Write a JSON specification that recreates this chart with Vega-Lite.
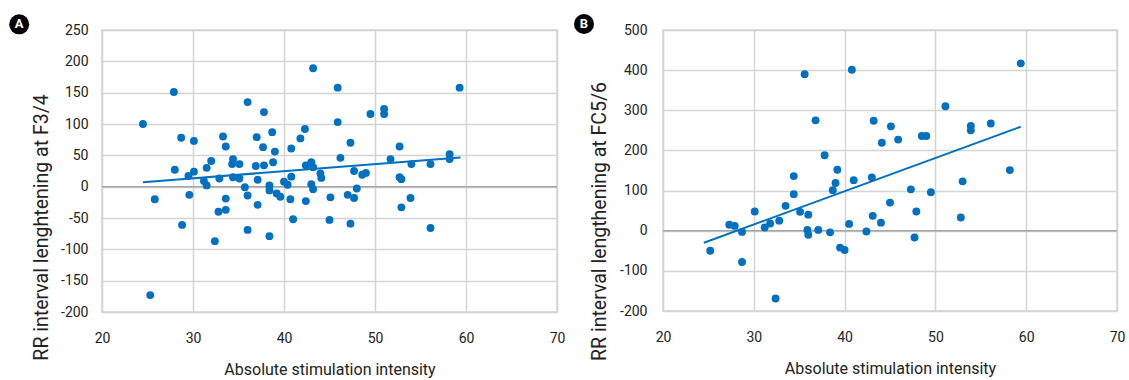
{
  "$schema": "https://vega.github.io/schema/vega-lite/v6.json",
  "background": "white",
  "padding": {"left": 8, "top": 13, "right": 5, "bottom": 5},
  "spacing": 106,
  "bounds": "flush",
  "config": {
    "font": "Roboto",
    "view": {"stroke": "#d4d4d4", "strokeWidth": 1.5},
    "axis": {
      "grid": true,
      "gridColor": "#d4d4d4",
      "gridWidth": 1.5,
      "domain": false,
      "ticks": false,
      "tickSize": 0,
      "labelFlush": false,
      "labelOverlap": false,
      "labelFont": "Roboto",
      "labelFontSize": 14,
      "labelColor": "#222222",
      "titleFont": "Roboto",
      "titleFontWeight": "normal",
      "titleColor": "#222222",
      "labelExpr": "datum.value < 0 ? '-' + abs(datum.value) : '' + datum.value"
    },
    "axisX": {"labelPadding": 19, "titlePadding": 16, "titleFontSize": 16},
    "axisY": {"labelPadding": 14, "titlePadding": 9, "titleFontSize": 19.5}
  },
  "datasets": {
    "a": [
      {"x": 24.5, "y": 100}, {"x": 27.9, "y": 151}, {"x": 25.8, "y": -20}, {"x": 25.3, "y": -173},
      {"x": 28.7, "y": 78}, {"x": 30.1, "y": 73}, {"x": 28.0, "y": 27}, {"x": 29.5, "y": 17},
      {"x": 30.1, "y": 24}, {"x": 29.6, "y": -13}, {"x": 28.8, "y": -61}, {"x": 31.2, "y": 9},
      {"x": 31.5, "y": 2}, {"x": 31.5, "y": 30}, {"x": 32.0, "y": 41}, {"x": 32.9, "y": 13},
      {"x": 32.4, "y": -87}, {"x": 32.8, "y": -40}, {"x": 33.6, "y": -37}, {"x": 33.6, "y": -19},
      {"x": 33.3, "y": 80}, {"x": 33.6, "y": 64}, {"x": 34.4, "y": 44}, {"x": 34.3, "y": 36},
      {"x": 35.1, "y": 36}, {"x": 34.4, "y": 15}, {"x": 35.1, "y": 13}, {"x": 35.7, "y": -1},
      {"x": 36.0, "y": -14}, {"x": 36.0, "y": -69}, {"x": 36.0, "y": 135}, {"x": 37.8, "y": 119},
      {"x": 37.0, "y": 79}, {"x": 37.7, "y": 63}, {"x": 38.7, "y": 87}, {"x": 39.0, "y": 56},
      {"x": 36.9, "y": 33}, {"x": 37.8, "y": 34}, {"x": 38.8, "y": 39}, {"x": 37.1, "y": 11},
      {"x": 37.1, "y": -29}, {"x": 38.4, "y": -79}, {"x": 38.4, "y": 2}, {"x": 38.4, "y": -6},
      {"x": 39.2, "y": -11}, {"x": 39.6, "y": -16}, {"x": 40.0, "y": 8}, {"x": 40.4, "y": 3},
      {"x": 40.8, "y": 16}, {"x": 40.8, "y": 61}, {"x": 40.7, "y": -20}, {"x": 41.0, "y": -52},
      {"x": 41.8, "y": 77}, {"x": 42.3, "y": 92}, {"x": 43.2, "y": 189}, {"x": 45.9, "y": 158},
      {"x": 45.9, "y": 103}, {"x": 47.3, "y": 70}, {"x": 46.2, "y": 46}, {"x": 49.5, "y": 116},
      {"x": 51.0, "y": 124}, {"x": 51.0, "y": 116}, {"x": 52.7, "y": 64}, {"x": 51.7, "y": 44},
      {"x": 54.0, "y": 36}, {"x": 56.1, "y": 36}, {"x": 58.2, "y": 52}, {"x": 58.2, "y": 44},
      {"x": 59.3, "y": 158}, {"x": 42.4, "y": 34}, {"x": 43.0, "y": 39}, {"x": 43.2, "y": 31},
      {"x": 44.0, "y": 21}, {"x": 44.1, "y": 14}, {"x": 47.7, "y": 25}, {"x": 48.6, "y": 19},
      {"x": 49.0, "y": 22}, {"x": 47.7, "y": -18}, {"x": 48.0, "y": -3}, {"x": 47.0, "y": -13},
      {"x": 43.0, "y": 4}, {"x": 43.2, "y": -4}, {"x": 42.4, "y": -23}, {"x": 45.1, "y": -17},
      {"x": 45.0, "y": -53}, {"x": 47.3, "y": -59}, {"x": 52.7, "y": 15}, {"x": 52.9, "y": 12},
      {"x": 53.9, "y": -18}, {"x": 52.9, "y": -33}, {"x": 56.1, "y": -66}
    ],
    "b": [
      {"x": 25.2, "y": -50}, {"x": 27.3, "y": 15}, {"x": 27.9, "y": 12}, {"x": 28.7, "y": -3},
      {"x": 28.7, "y": -78}, {"x": 30.1, "y": 48}, {"x": 31.2, "y": 8}, {"x": 31.8, "y": 18},
      {"x": 32.8, "y": 25}, {"x": 32.4, "y": -169}, {"x": 33.5, "y": 62}, {"x": 34.4, "y": 91},
      {"x": 34.4, "y": 136}, {"x": 35.1, "y": 47}, {"x": 36.0, "y": 40}, {"x": 35.9, "y": 2},
      {"x": 36.0, "y": -10}, {"x": 37.1, "y": 2}, {"x": 35.6, "y": 390}, {"x": 36.8, "y": 275},
      {"x": 37.8, "y": 188}, {"x": 38.4, "y": -4}, {"x": 39.2, "y": 152}, {"x": 39.0, "y": 119},
      {"x": 38.7, "y": 101}, {"x": 39.5, "y": -42}, {"x": 40.0, "y": -48}, {"x": 40.5, "y": 17},
      {"x": 40.8, "y": 401}, {"x": 41.0, "y": 126}, {"x": 43.0, "y": 133}, {"x": 43.2, "y": 274},
      {"x": 45.1, "y": 260}, {"x": 44.1, "y": 219}, {"x": 45.9, "y": 227}, {"x": 48.5, "y": 236},
      {"x": 49.0, "y": 236}, {"x": 51.1, "y": 310}, {"x": 53.9, "y": 261}, {"x": 53.9, "y": 250},
      {"x": 56.1, "y": 267}, {"x": 59.4, "y": 417}, {"x": 58.2, "y": 151}, {"x": 53.0, "y": 123},
      {"x": 52.8, "y": 33}, {"x": 47.3, "y": 103}, {"x": 49.5, "y": 96}, {"x": 45.0, "y": 70},
      {"x": 47.9, "y": 48}, {"x": 43.1, "y": 37}, {"x": 44.0, "y": 20}, {"x": 42.4, "y": -2},
      {"x": 47.7, "y": -17}
    ]
  },
  "hconcat": [
    {
      "width": 455,
      "height": 282,
      "data": {"name": "a"},
      "encoding": {
        "x": {"type": "quantitative", "scale": {"domain": [20, 70], "nice": false, "zero": false},
              "axis": {"values": [20, 30, 40, 50, 60, 70], "title": "Absolute stimulation intensity"}},
        "y": {"type": "quantitative", "scale": {"domain": [-200, 250], "nice": false, "zero": false},
              "axis": {"values": [-200, -150, -100, -50, 0, 50, 100, 150, 200, 250], "title": "RR interval lenghtening at F3/4", "titleY": 197}}
      },
      "layer": [
        {
          "data": {"values": [{}]},
          "mark": {"type": "rule", "color": "#a6a6a6", "strokeWidth": 1.5},
          "encoding": {"y": {"datum": 0, "type": "quantitative"}}
        },
        {
          "mark": {"type": "point", "filled": true, "shape": "circle", "size": 62, "color": "#0070c0", "opacity": 1},
          "encoding": {"x": {"field": "x"}, "y": {"field": "y"}}
        },
        {
          "transform": [{"regression": "y", "on": "x", "extent": [24.5, 59.4]}],
          "mark": {"type": "line", "color": "#0070c0", "strokeWidth": 2},
          "encoding": {"x": {"field": "x"}, "y": {"field": "y"}}
        },
        {
          "data": {"values": [{}]},
          "mark": {"type": "point", "filled": true, "shape": "circle", "size": 400, "color": "#000000", "opacity": 1},
          "encoding": {"x": {"datum": 10.9}, "y": {"datum": 259}}
        },
        {
          "data": {"values": [{}]},
          "mark": {"type": "text", "text": "A", "color": "white", "fontWeight": "bold", "fontSize": 13, "font": "Roboto", "baseline": "middle", "align": "center"},
          "encoding": {"x": {"datum": 10.9}, "y": {"datum": 259}}
        }
      ]
    },
    {
      "width": 454,
      "height": 281,
      "data": {"name": "b"},
      "encoding": {
        "x": {"type": "quantitative", "scale": {"domain": [20, 70], "nice": false, "zero": false},
              "axis": {"values": [20, 30, 40, 50, 60, 70], "title": "Absolute stimulation intensity"}},
        "y": {"type": "quantitative", "scale": {"domain": [-200, 500], "nice": false, "zero": false},
              "axis": {"values": [-200, -100, 0, 100, 200, 300, 400, 500], "title": "RR interval lengthening at FC5/6", "labelPadding": 16, "titlePadding": 10, "titleY": 191}}
      },
      "layer": [
        {
          "data": {"values": [{}]},
          "mark": {"type": "rule", "color": "#a6a6a6", "strokeWidth": 1.5},
          "encoding": {"y": {"datum": 0, "type": "quantitative"}}
        },
        {
          "mark": {"type": "point", "filled": true, "shape": "circle", "size": 62, "color": "#0070c0", "opacity": 1},
          "encoding": {"x": {"field": "x"}, "y": {"field": "y"}}
        },
        {
          "transform": [{"regression": "y", "on": "x", "extent": [24.5, 59.4]}],
          "mark": {"type": "line", "color": "#0070c0", "strokeWidth": 2},
          "encoding": {"x": {"field": "x"}, "y": {"field": "y"}}
        },
        {
          "data": {"values": [{}]},
          "mark": {"type": "point", "filled": true, "shape": "circle", "size": 400, "color": "#000000", "opacity": 1},
          "encoding": {"x": {"datum": 11.3}, "y": {"datum": 515}}
        },
        {
          "data": {"values": [{}]},
          "mark": {"type": "text", "text": "B", "color": "white", "fontWeight": "bold", "fontSize": 13, "font": "Roboto", "baseline": "middle", "align": "center"},
          "encoding": {"x": {"datum": 11.3}, "y": {"datum": 515}}
        }
      ]
    }
  ]
}
